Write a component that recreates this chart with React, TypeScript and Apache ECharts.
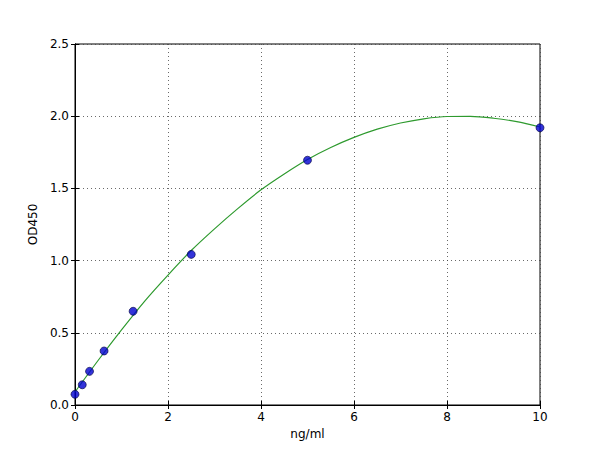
import { useEffect, useRef } from "react";
import * as echarts from "echarts";

// measured standards
const concentrations = [0, 0.156, 0.3125, 0.625, 1.25, 2.5, 5, 10];
const odValues = [0.074, 0.14, 0.233, 0.374, 0.649, 1.043, 1.695, 1.92];

// fitted curve
const curveX = [0, 0.5, 1, 1.5, 2, 2.5, 3, 3.5, 4, 4.5, 5, 5.5, 6, 6.5, 7, 7.5, 8, 8.5, 9, 9.5, 10];
const curveY = [0.09, 0.31, 0.52, 0.72, 0.9, 1.07, 1.22, 1.36, 1.49, 1.6, 1.7, 1.783, 1.853, 1.91, 1.953, 1.982, 1.998, 1.999, 1.986, 1.962, 1.925];

const FONT = "DejaVu Sans";

export default function App() {
  const chartRef = useRef<HTMLDivElement>(null);

  useEffect(() => {
    document.body.style.margin = "0";
    if (!chartRef.current) return;
    const chart = echarts.init(chartRef.current, null, { renderer: "svg" });

    const tickStyle = { show: true, inside: true, length: 4, lineStyle: { color: "#000" } };
    const lineStyle = { show: true, lineStyle: { color: "#000", width: 1 } };
    const gridLine = { show: true, lineStyle: { color: "#444", type: [1, 3] as number[], width: 0.8 } };

    chart.setOption({
      animation: false,
      backgroundColor: "#fff",
      grid: { left: 75, right: 60, top: 44, bottom: 45, show: true, borderColor: "#000", borderWidth: 1 },
      xAxis: [
        {
          type: "value",
          min: 0,
          max: 10,
          interval: 2,
          name: "ng/ml",
          nameLocation: "middle",
          nameGap: 20,
          nameTextStyle: { fontFamily: FONT, fontSize: 12, color: "#000" },
          axisLine: lineStyle,
          axisTick: tickStyle,
          axisLabel: { fontFamily: FONT, fontSize: 12, color: "#000", margin: 6 },
          splitLine: gridLine,
        },
        {
          type: "value",
          position: "top",
          min: 0,
          max: 10,
          interval: 2,
          axisLine: lineStyle,
          axisTick: tickStyle,
          axisLabel: { show: false },
          splitLine: { show: false },
        },
      ],
      yAxis: [
        {
          type: "value",
          min: 0,
          max: 2.5,
          interval: 0.5,
          name: "OD450",
          nameLocation: "middle",
          nameGap: 28,
          nameTextStyle: { fontFamily: FONT, fontSize: 12, color: "#000" },
          axisLine: lineStyle,
          axisTick: tickStyle,
          axisLabel: {
            fontFamily: FONT,
            fontSize: 12,
            color: "#000",
            margin: 6,
            formatter: (v: number) => v.toFixed(1),
          },
          splitLine: gridLine,
        },
        {
          type: "value",
          position: "right",
          min: 0,
          max: 2.5,
          interval: 0.5,
          axisLine: lineStyle,
          axisTick: tickStyle,
          axisLabel: { show: false },
          splitLine: { show: false },
        },
      ],
      series: [
        {
          type: "line",
          data: curveX.map((x, i) => [x, curveY[i]]),
          smooth: 0.3,
          showSymbol: false,
          lineStyle: { color: "#2e9a2e", width: 1.2 },
          z: 2,
        },
        {
          type: "scatter",
          data: concentrations.map((x, i) => [x, odValues[i]]),
          symbol: "circle",
          symbolSize: 8,
          itemStyle: { color: "#0000d0", borderColor: "#000040", borderWidth: 0.8 },
          clip: false,
          z: 3,
        },
      ],
    });

    return () => chart.dispose();
  }, []);

  return <div ref={chartRef} style={{ width: 600, height: 450 }} />;
}
